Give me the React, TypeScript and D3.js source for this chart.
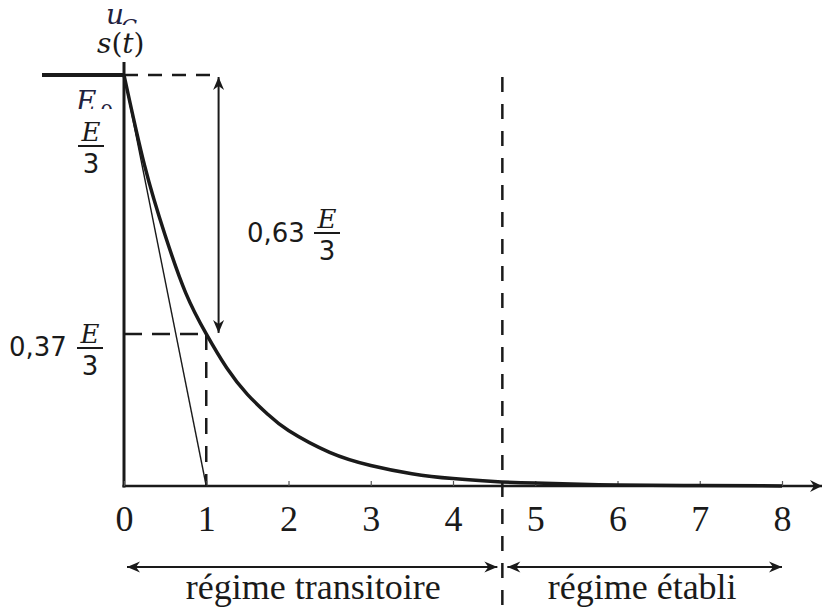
import * as d3 from 'd3';
import { useEffect, useRef } from 'react';

const W = 824;
const H = 611;

// abscissa in units of tau
const tickValues = [0, 1, 2, 3, 4, 5, 6, 7, 8];

// discharge curve s(t), in units of E/3
const curveT = [0, 0.25, 0.5, 0.75, 1, 1.25, 1.5, 1.75, 2, 2.5, 3, 3.5, 4, 4.5, 5, 6, 7, 8];
const curveV = [1, 0.78, 0.61, 0.47, 0.37, 0.287, 0.223, 0.174, 0.135, 0.082, 0.05, 0.03, 0.018, 0.011, 0.007, 0.0025, 0.001, 0.0003];

// tangent at origin hits the axis at tau
const tangentT = [0, 1];
const tangentV = [1, 0];

const tau = 1;
const level37 = 0.37;
const arrowT = 1.15;
const boundaryT = 4.6;
const regimeLabels = ['régime transitoire', 'régime établi'];

const ink = '#1a1a1a';
const navy = '#1f2240';
const serif = '"Liberation Serif", "Times New Roman", serif';
const mathSerif = '"DejaVu Serif", serif';
const mathSans = '"DejaVu Sans", sans-serif';

const Frac = ({ cx, barY, size = 26 }) => (
  <g>
    <text x={cx} y={barY - 5} textAnchor="middle" fontFamily={mathSerif} fontStyle="italic" fontSize={size} fill={ink}>E</text>
    <line x1={cx - 13} x2={cx + 13} y1={barY} y2={barY} stroke={ink} strokeWidth={2} />
    <text x={cx} y={barY + 27} textAnchor="middle" fontFamily={mathSans} fontSize={size} fill={ink}>3</text>
  </g>
);

export default function App() {
  const axisRef = useRef(null);

  const x = d3.scaleLinear().domain([0, 8]).range([124, 782]);
  const y = d3.scaleLinear().domain([0, 1]).range([486, 75]);

  const curvePts = curveT.map((t, i) => [t, curveV[i]]);
  const line = d3
    .line()
    .x((d) => x(d[0]))
    .y((d) => y(d[1]))
    .curve(d3.curveNatural);

  useEffect(() => {
    const g = d3.select(axisRef.current);
    g.selectAll('*').remove();
    g.call(d3.axisBottom(x).tickValues(tickValues).tickSizeInner(-5).tickSizeOuter(0).tickPadding(19));
    g.select('.domain').remove();
    g.selectAll('.tick line').attr('stroke', '#555').attr('stroke-width', 1.2);
    g.selectAll('.tick text')
      .attr('font-family', serif)
      .attr('font-size', 36)
      .attr('fill', ink);
  }, []);

  const xb = x(boundaryT);

  return (
    <svg width={W} height={H} style={{ position: 'absolute', left: 0, top: 0, background: '#fff' }}>
      <defs>
        <marker id="head" viewBox="-14 -7 16 14" markerWidth={16} markerHeight={14} refX={0} refY={0}
          orient="auto-start-reverse" markerUnits="userSpaceOnUse">
          <path d="M0,0 L-13,-5.5 L-9,0 L-13,5.5 Z" fill={ink} />
        </marker>
        <marker id="headAxis" viewBox="-14 -7 16 14" markerWidth={16} markerHeight={14} refX={0} refY={0}
          orient="auto" markerUnits="userSpaceOnUse">
          <path d="M0,0 L-12,-6 L-8,0 L-12,6 Z" fill={ink} />
        </marker>
      </defs>

      {/* u_C label, partly hidden behind s(t) */}
      <text x={106} y={24} fontFamily={mathSerif} fontStyle="italic" fontSize={28} fill={navy}>u</text>
      <text x={121} y={34} fontFamily={mathSerif} fontStyle="italic" fontSize={21} fill={navy}>C</text>
      <rect x={88} y={25} width={66} height={37} fill="#fff" />
      <text x={97} y={53} fontFamily={mathSerif} fontSize={28} fill={ink}>
        <tspan fontStyle="italic">s</tspan>
        <tspan>(</tspan>
        <tspan fontStyle="italic">t</tspan>
        <tspan>)</tspan>
      </text>

      {/* E_0, partly hidden behind E/3 */}
      <text x={76} y={111} fontFamily={mathSerif} fontStyle="italic" fontSize={28} fill={navy}>E</text>
      <text x={100} y={119} fontFamily={mathSerif} fontSize={21} fill={navy}>0</text>
      <rect x={66} y={109} width={50} height={70} fill="#fff" />
      <Frac cx={91} barY={146} />

      {/* input step before t = 0 */}
      <line x1={42} x2={x(0)} y1={y(1)} y2={y(1)} stroke={ink} strokeWidth={4} />

      {/* dashed guides */}
      <line x1={x(0)} x2={x(arrowT)} y1={y(1)} y2={y(1)} stroke={ink} strokeWidth={2.5} strokeDasharray="14 10" />
      <line x1={x(0)} x2={x(tau)} y1={y(level37)} y2={y(level37)} stroke={ink} strokeWidth={2.5} strokeDasharray="18 10" />
      <line x1={x(tau)} x2={x(tau)} y1={y(level37)} y2={y(0)} stroke={ink} strokeWidth={2.5} strokeDasharray="16 12" />
      <line x1={xb} x2={xb} y1={77} y2={H} stroke={ink} strokeWidth={2.5} strokeDasharray="15 12" />

      {/* axes */}
      <line x1={x(0)} x2={x(0)} y1={62} y2={y(0) + 1.5} stroke={ink} strokeWidth={3} />
      <line x1={x(0) - 1.5} x2={822} y1={y(0)} y2={y(0)} stroke={ink} strokeWidth={2.5} markerEnd="url(#headAxis)" />
      <g ref={axisRef} transform={`translate(0,${y(0)})`} />

      {/* tangent at origin */}
      <line x1={x(tangentT[0])} y1={y(tangentV[0])} x2={x(tangentT[1])} y2={y(tangentV[1])} stroke={ink} strokeWidth={1.4} />

      {/* response curve */}
      <path d={line(curvePts)} fill="none" stroke={ink} strokeWidth={3.5} />

      {/* 0,63 E/3 arrow */}
      <line x1={x(arrowT)} x2={x(arrowT)} y1={y(1) + 2} y2={y(level37) - 1} stroke={ink} strokeWidth={2}
        markerStart="url(#head)" markerEnd="url(#head)" />
      <text x={247} y={242} fontFamily={mathSans} fontSize={26} fill={ink}>0,63</text>
      <Frac cx={327} barY={233} />

      <text x={9} y={356} fontFamily={mathSans} fontSize={26} fill={ink}>0,37</text>
      <Frac cx={90} barY={348} />

      {/* regimes */}
      <line x1={x(0) + 3} x2={xb - 5} y1={567} y2={567} stroke={ink} strokeWidth={2}
        markerStart="url(#head)" markerEnd="url(#head)" />
      <line x1={xb + 5} x2={x(8)} y1={567} y2={567} stroke={ink} strokeWidth={2}
        markerStart="url(#head)" markerEnd="url(#head)" />
      <text x={(x(0) + xb) / 2} y={599} textAnchor="middle" fontFamily={serif} fontSize={36} fill={ink}>{regimeLabels[0]}</text>
      <text x={(xb + x(8)) / 2} y={599} textAnchor="middle" fontFamily={serif} fontSize={36} fill={ink}>{regimeLabels[1]}</text>
    </svg>
  );
}
